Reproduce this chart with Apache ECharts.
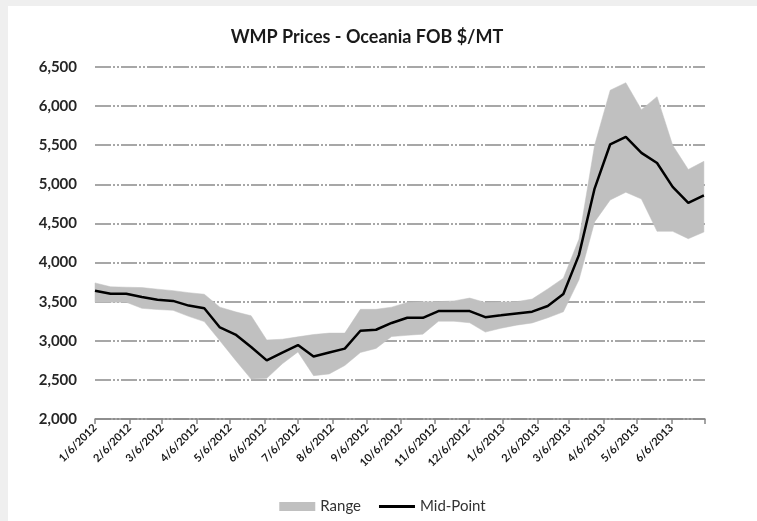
<!DOCTYPE html>
<html>
<head>
<meta charset="utf-8">
<script src="https://cdn.jsdelivr.net/npm/echarts@6/dist/echarts.min.js"></script>
<style>
  html, body { margin: 0; padding: 0; width: 757px; height: 521px; background: #efefef; overflow: hidden; }
  #chart { position: absolute; left: 8px; top: 6px; width: 749px; height: 515px; background: #ffffff; }
</style>
</head>
<body>
<div id="chart"></div>
<script>
// Biweekly report dates (categories)
const reportDates = ['2012-01-06','2012-01-20','2012-02-03','2012-02-17','2012-03-02','2012-03-16','2012-03-30','2012-04-13','2012-04-27','2012-05-11',
  '2012-05-25','2012-06-08','2012-06-22','2012-07-06','2012-07-20','2012-08-03','2012-08-17','2012-08-31','2012-09-14','2012-09-28',
  '2012-10-12','2012-10-26','2012-11-09','2012-11-23','2012-12-07','2012-12-21','2013-01-04','2013-01-18','2013-02-01','2013-02-15',
  '2013-03-01','2013-03-15','2013-03-29','2013-04-12','2013-04-26','2013-05-10','2013-05-24','2013-06-07','2013-06-21','2013-07-05'];
// Mid-point price ($/MT)
const midPoint = [3640,3600,3600,3560,3525,3510,3450,3415,3170,3080,
  2920,2750,2850,2945,2800,2850,2900,3128,3141,3228,
  3294,3294,3380,3380,3380,3302,3325,3350,3372,3445,
  3598,4098,4946,5512,5607,5402,5272,4968,4763,4859];
// Range high
const rangeHigh = [3740,3690,3685,3680,3660,3641,3615,3595,3430,3370,
  3320,3010,3020,3050,3080,3098,3098,3402,3402,3430,
  3490,3500,3500,3510,3546,3490,3495,3500,3533,3663,
  3800,4300,5500,6203,6299,5955,6121,5500,5190,5294];
// Range low
const rangeLow = [3493,3493,3493,3415,3400,3389,3312,3245,3000,2752,
  2510,2520,2706,2858,2554,2576,2684,2850,2902,3054,
  3070,3085,3250,3250,3230,3111,3160,3200,3228,3294,
  3370,3780,4520,4800,4899,4812,4399,4399,4305,4390];
// X tick labels (month ticks)
const tickLabels = ['1/6/2012','2/6/2012','3/6/2012','4/6/2012','5/6/2012','6/6/2012','7/6/2012','8/6/2012','9/6/2012','10/6/2012',
  '11/6/2012','12/6/2012','1/6/2013','2/6/2013','3/6/2013','4/6/2013','5/6/2013','6/6/2013'];
const axisEnd = '7/6/2013';
const yTicks = { min: 2000, max: 6500, step: 500 };

const DAY = 86400000;
const t0 = Date.UTC(2012, 0, 6);
function isoDays(s) { const p = s.split('-').map(Number); return Math.round((Date.UTC(p[0], p[1]-1, p[2]) - t0) / DAY); }
function mdyDays(s) { const p = s.split('/').map(Number); return Math.round((Date.UTC(p[2], p[0]-1, p[1]) - t0) / DAY); }
const xs = reportDates.map(isoDays);
const tickDays = tickLabels.map(mdyDays);
const endDays = mdyDays(axisEnd);
const allTickDays = tickDays.concat([endDays]);

const bandData = xs.map((x, i) => [x, rangeLow[i], rangeHigh[i]]);

const FONT = 'Lato';
const chart = echarts.init(document.getElementById('chart'), null, { renderer: 'canvas' });
chart.setOption({
  animation: false,
  backgroundColor: '#ffffff',
  title: {
    text: 'WMP Prices - Oceania FOB $/MT',
    left: 354, top: 17, textAlign: 'center',
    textStyle: { fontFamily: FONT, fontWeight: 'bold', fontSize: 18, color: '#1a1a1a' }
  },
  legend: {
    left: 'center', top: 488,
    itemWidth: 36, itemHeight: 9, itemGap: 18,
    textStyle: { fontFamily: FONT, fontSize: 15, color: '#333333' },
    data: [
      { name: 'Range', icon: 'rect', itemStyle: { color: '#c0c0c0' } },
      { name: 'Mid-Point', icon: 'path://M0,0H36V3H0Z', itemStyle: { color: '#000000' } }
    ]
  },
  grid: { left: 87, right: 52, top: 61, bottom: 102, containLabel: false },
  xAxis: {
    type: 'value', min: 0, max: endDays,
    axisLine: { show: true, lineStyle: { color: '#868686', width: 1.5 } },
    axisTick: { show: true, length: 5, lineStyle: { color: '#868686', width: 1.5 }, customValues: allTickDays },
    axisLabel: {
      customValues: tickDays, rotate: 45, margin: 7,
      fontFamily: FONT, fontWeight: 'bold', fontSize: 11, color: '#1a1a1a',
      formatter: function (v) { const i = tickDays.indexOf(Math.round(v)); return i >= 0 ? tickLabels[i] : ''; }
    },
    splitLine: { show: false }
  },
  yAxis: {
    type: 'value', min: yTicks.min, max: yTicks.max, interval: yTicks.step,
    axisLine: { show: false }, axisTick: { show: false },
    axisLabel: {
      margin: 18, fontFamily: FONT, fontWeight: 'bold', fontSize: 15, color: '#262626',
      formatter: function (v) { return v.toLocaleString('en-US'); }
    },
    splitLine: { show: true, lineStyle: { color: '#8a8a8a', width: 1.5, type: [16, 2, 2, 2, 2, 2] } }
  },
  series: [
    {
      name: 'Range', type: 'custom', silent: true, z: 2,
      itemStyle: { color: '#c0c0c0' },
      encode: { x: 0, y: [1, 2] },
      data: [bandData[0]],
      renderItem: function (params, api) {
        const top = bandData.map(d => api.coord([d[0], d[2]]));
        const bot = bandData.map(d => api.coord([d[0], d[1]])).reverse();
        return {
          type: 'polygon',
          shape: { points: top.concat(bot) },
          style: { fill: '#c0c0c0', stroke: '#c0c0c0', lineWidth: 0.5 }
        };
      }
    },
    {
      name: 'Mid-Point', type: 'line', symbol: 'none', z: 5,
      lineStyle: { color: '#000000', width: 2.5 }, itemStyle: { color: '#000000' },
      data: xs.map((x, i) => [x, midPoint[i]])
    }
  ]
});
</script>
</body>
</html>
